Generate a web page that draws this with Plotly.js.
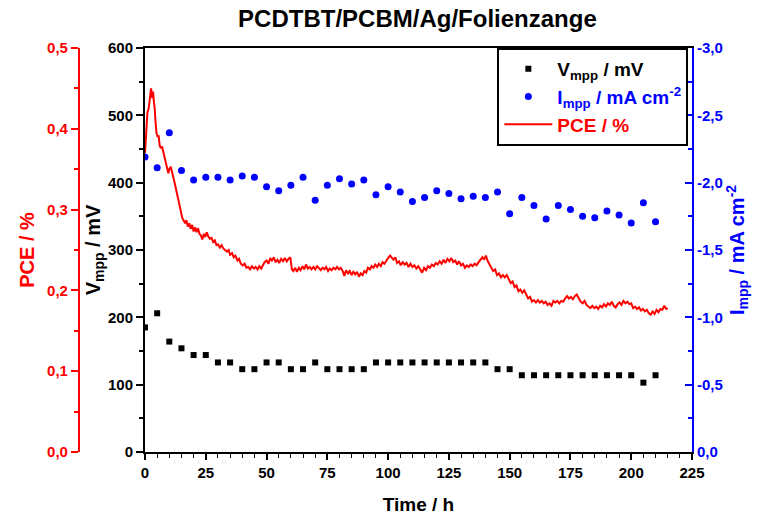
<!DOCTYPE html>
<html>
<head>
<meta charset="utf-8">
<script src="https://cdn.plot.ly/plotly-3.0.1.min.js"></script>
<style>html,body{margin:0;padding:0;background:#fff;}#chart{width:759px;height:515px;}</style>
</head>
<body>
<div id="chart"></div>
<script>
// Vmpp (mV), measured every 5 h
const vTime = [0,5,10,15,20,25,30,35,40,45,50,55,60,65,70,75,80,85,90,95,100,105,110,115,120,125,130,135,140,145,150,155,160,165,170,175,180,185,190,195,200,205,210];
const vmpp  = [185,206,164,154,144,144,133,133,123,123,133,133,123,123,133,123,123,123,123,133,133,133,133,133,133,133,133,133,133,123,123,114,114,114,114,114,114,114,114,114,114,103,114];
// Impp (mA cm^-2)
const iTime = vTime;
const impp  = [-2.19,-2.11,-2.37,-2.09,-2.02,-2.04,-2.04,-2.02,-2.05,-2.04,-1.97,-1.94,-1.98,-2.04,-1.87,-1.98,-2.03,-1.99,-2.02,-1.91,-1.97,-1.93,-1.86,-1.89,-1.94,-1.92,-1.88,-1.90,-1.89,-1.93,-1.77,-1.89,-1.83,-1.73,-1.83,-1.80,-1.75,-1.74,-1.79,-1.76,-1.70,-1.85,-1.71];
// PCE (%)
const pceTime = [0,0.5,1,1.5,2,2.5,3,3.3,3.7,4,4.3,4.7,5.2,5.6,6,6.5,7,7.5,8,8.4,9,9.6,10,10.6,11,11.7,12.2,13,13.6,14.2,14.8,15.3,15.8,16.5,17,17.6,18.2,18.8,19.4,20,20.6,21.2,21.8,22.4,23,23.6,24.2,24.8,25.4,26,26.7,27.4,28,28.7,29.4,30,30.8,31.5,32.2,33,33.7,34.4,35,35.8,36.5,37.2,38,38.7,39.4,40.2,41,41.7,42.5,43.2,44,44.8,45.5,46.3,47,47.8,48.5,49.2,50,50.8,51.5,52.2,53,53.7,54.5,55.2,56,56.8,57.5,58.3,59,59.8,60.4,61,61.8,62.5,63.3,64,64.8,65.5,66.2,67,67.8,68.5,69.3,70,70.8,71.5,72.3,73,73.8,74.5,75.3,76,76.8,77.5,78.3,79,79.8,80.5,81.3,82,82.7,83.5,84.2,85,85.7,86.5,87.2,88,88.7,89.5,90.2,91,91.7,92.5,93.2,94,94.7,95.5,96.2,97,97.7,98.5,99.2,100,100.8,101.5,102.2,103,103.7,104.5,105.2,106,106.8,107.6,108.4,109.2,110,110.8,111.6,112.4,113.2,114,114.8,115.6,116.4,117.2,118,118.8,119.6,120.4,121.2,122,122.8,123.6,124.4,125.2,126,126.8,127.6,128.4,129.2,130,130.8,131.6,132.4,133.2,134,134.8,135.6,136.4,137.2,138,138.8,139.5,140.2,141,141.7,142.4,143.2,144,144.8,145.6,146.4,147.2,148,148.8,149.6,150.4,151.2,152,152.8,153.6,154.4,155.2,156,156.8,157.6,158.4,159.2,160,160.8,161.6,162.4,163.2,164,164.8,165.6,166.4,167.2,168,168.8,169.6,170.4,171.2,172,172.8,173.6,174.4,175.2,176,176.8,177.6,178.4,179.2,180,180.8,181.6,182.4,183.2,184,184.8,185.6,186.4,187.2,188,188.8,189.6,190.4,191.2,192,192.8,193.6,194.4,195.2,196,196.8,197.6,198.4,199.2,200,200.8,201.6,202.4,203.2,204,204.8,205.6,206.4,207.2,208,208.8,209.6,210.4,211.2,212,212.8,213.6,214.4,215];
const pce = [0.370,0.400,0.420,0.425,0.440,0.450,0.438,0.446,0.432,0.425,0.410,0.395,0.390,0.392,0.380,0.376,0.378,0.372,0.368,0.360,0.354,0.345,0.350,0.353,0.348,0.341,0.333,0.322,0.314,0.302,0.298,0.290,0.287,0.283,0.287,0.279,0.283,0.276,0.281,0.273,0.278,0.272,0.277,0.270,0.268,0.263,0.270,0.266,0.272,0.267,0.264,0.265,0.260,0.262,0.256,0.257,0.253,0.256,0.252,0.250,0.248,0.250,0.244,0.246,0.241,0.243,0.237,0.239,0.233,0.231,0.233,0.228,0.229,0.226,0.230,0.227,0.229,0.226,0.230,0.227,0.231,0.235,0.237,0.233,0.240,0.237,0.241,0.235,0.238,0.234,0.239,0.236,0.240,0.236,0.239,0.241,0.226,0.224,0.228,0.223,0.228,0.225,0.230,0.226,0.232,0.227,0.229,0.226,0.229,0.226,0.230,0.227,0.225,0.228,0.226,0.229,0.224,0.227,0.225,0.228,0.226,0.229,0.226,0.228,0.224,0.218,0.225,0.221,0.224,0.219,0.223,0.220,0.223,0.217,0.221,0.219,0.224,0.222,0.228,0.226,0.230,0.228,0.232,0.229,0.233,0.230,0.235,0.233,0.237,0.240,0.243,0.240,0.238,0.241,0.234,0.236,0.231,0.235,0.232,0.234,0.229,0.233,0.229,0.231,0.227,0.230,0.226,0.222,0.228,0.225,0.230,0.228,0.232,0.230,0.234,0.232,0.236,0.233,0.238,0.234,0.239,0.236,0.240,0.235,0.237,0.232,0.236,0.231,0.233,0.228,0.231,0.229,0.232,0.230,0.233,0.231,0.235,0.238,0.241,0.238,0.243,0.236,0.232,0.228,0.224,0.226,0.219,0.221,0.216,0.219,0.216,0.219,0.214,0.209,0.211,0.204,0.206,0.199,0.201,0.197,0.200,0.195,0.190,0.192,0.186,0.188,0.185,0.188,0.185,0.187,0.184,0.186,0.182,0.184,0.181,0.187,0.185,0.187,0.184,0.187,0.186,0.190,0.193,0.190,0.192,0.189,0.193,0.195,0.190,0.186,0.184,0.187,0.182,0.180,0.178,0.181,0.178,0.180,0.177,0.181,0.179,0.183,0.180,0.184,0.182,0.186,0.181,0.179,0.183,0.185,0.182,0.187,0.184,0.186,0.183,0.184,0.178,0.180,0.177,0.179,0.175,0.177,0.174,0.176,0.172,0.170,0.174,0.171,0.176,0.173,0.177,0.176,0.181,0.177,0.178];

const vTicks = [0,100,200,300,400,500,600];
const pceTickVals = [0,0.1,0.2,0.3,0.4,0.5];
const pceTickText = ['0,0','0,1','0,2','0,3','0,4','0,5'];
const iTickVals = [0,-0.5,-1,-1.5,-2,-2.5,-3];
const iTickText = ['0,0','-0,5','-1,0','-1,5','-2,0','-2,5','-3,0'];
const xTicks = [0,25,50,75,100,125,150,175,200,225];

const FONT = 'Liberation Sans, Arial, sans-serif';
const RED = '#ff0000', BLUE = '#0000ff', BLACK = '#000000';

const traces = [
  {x: vTime, y: vmpp, type: 'scatter', mode: 'markers', name: 'V<sub>mpp</sub> / mV',
   marker: {symbol: 'square', size: 6, color: BLACK}, xaxis: 'x', yaxis: 'y'},
  {x: iTime, y: impp, type: 'scatter', mode: 'markers',
   name: '<span style="color:#0000ff">I<sub>mpp</sub> / mA cm<sup>-2</sup></span>',
   marker: {symbol: 'circle', size: 7, color: BLUE}, xaxis: 'x', yaxis: 'y3'},
  {x: pceTime, y: pce, type: 'scatter', mode: 'lines',
   name: '<span style="color:#ff0000">PCE / %</span>',
   line: {color: RED, width: 2}, xaxis: 'x', yaxis: 'y2'}
];

const tf = (c, s) => ({family: FONT, size: s, color: c, weight: 'bold'});

const layout = {
  width: 759, height: 515,
  margin: {l: 60, r: 67, t: 48, b: 63},
  paper_bgcolor: '#ffffff', plot_bgcolor: '#ffffff',
  showlegend: true,
  title: {text: 'PCDTBT/PCBM/Ag/Folienzange', font: tf(BLACK, 24), x: 0.55, xanchor: 'center', y: 0.963, yanchor: 'middle'},
  xaxis: {
    domain: [0.1345, 1], range: [0, 225], tickvals: xTicks,
    showgrid: false, zeroline: false, showline: true, linecolor: BLACK, linewidth: 2, mirror: true,
    ticks: 'outside', ticklen: 6, tickwidth: 2, tickcolor: BLACK,
    minor: {dtick: 5, ticks: 'outside', ticklen: 4, tickwidth: 1, tickcolor: BLACK},
    tickfont: tf(BLACK, 15),
    title: {text: 'Time / h', font: tf(BLACK, 19), standoff: 18}
  },
  yaxis: {
    range: [0, 600], tickvals: vTicks,
    showgrid: false, zeroline: false, showline: true, linecolor: BLACK, linewidth: 2,
    ticks: 'outside', ticklen: 7, tickwidth: 2, tickcolor: BLACK,
    minor: {dtick: 50, ticks: 'outside', ticklen: 4, tickwidth: 2, tickcolor: BLACK},
    tickfont: tf(BLACK, 15),
    title: {text: 'V<sub>mpp</sub> / mV', font: tf(BLACK, 20), standoff: 2}
  },
  yaxis2: {
    overlaying: 'y', anchor: 'free', position: 0.030, side: 'left',
    range: [0, 0.5], tickvals: pceTickVals, ticktext: pceTickText,
    showgrid: false, zeroline: false, showline: true, linecolor: RED, linewidth: 2,
    ticks: 'outside', ticklen: 7, tickwidth: 2, tickcolor: RED,
    minor: {dtick: 0.05, ticks: 'outside', ticklen: 4, tickwidth: 2, tickcolor: RED},
    tickfont: tf(RED, 15),
    title: {text: 'PCE / %', font: tf(RED, 20), standoff: 6}
  },
  yaxis3: {
    overlaying: 'y', anchor: 'x', side: 'right',
    range: [0, -3], tickvals: iTickVals, ticktext: iTickText,
    showgrid: false, zeroline: false, showline: true, linecolor: BLUE, linewidth: 2,
    ticks: 'inside', ticklen: 7, tickwidth: 2, tickcolor: BLUE,
    minor: {dtick: 0.25, ticks: 'inside', ticklen: 4, tickwidth: 2, tickcolor: BLUE},
    tickfont: tf(BLUE, 15),
    title: {text: 'I<sub>mpp</sub> / mA cm<sup>-2</sup>', font: tf(BLUE, 20), standoff: 6}
  },
  legend: {
    x: 0.692, y: 1, xanchor: 'left', yanchor: 'top',
    bgcolor: '#ffffff', bordercolor: BLACK, borderwidth: 2,
    font: tf(BLACK, 19), tracegroupgap: 0, itemwidth: 48
  }
};

Plotly.newPlot('chart', traces, layout, {displayModeBar: false, staticPlot: true});
</script>
</body>
</html>
